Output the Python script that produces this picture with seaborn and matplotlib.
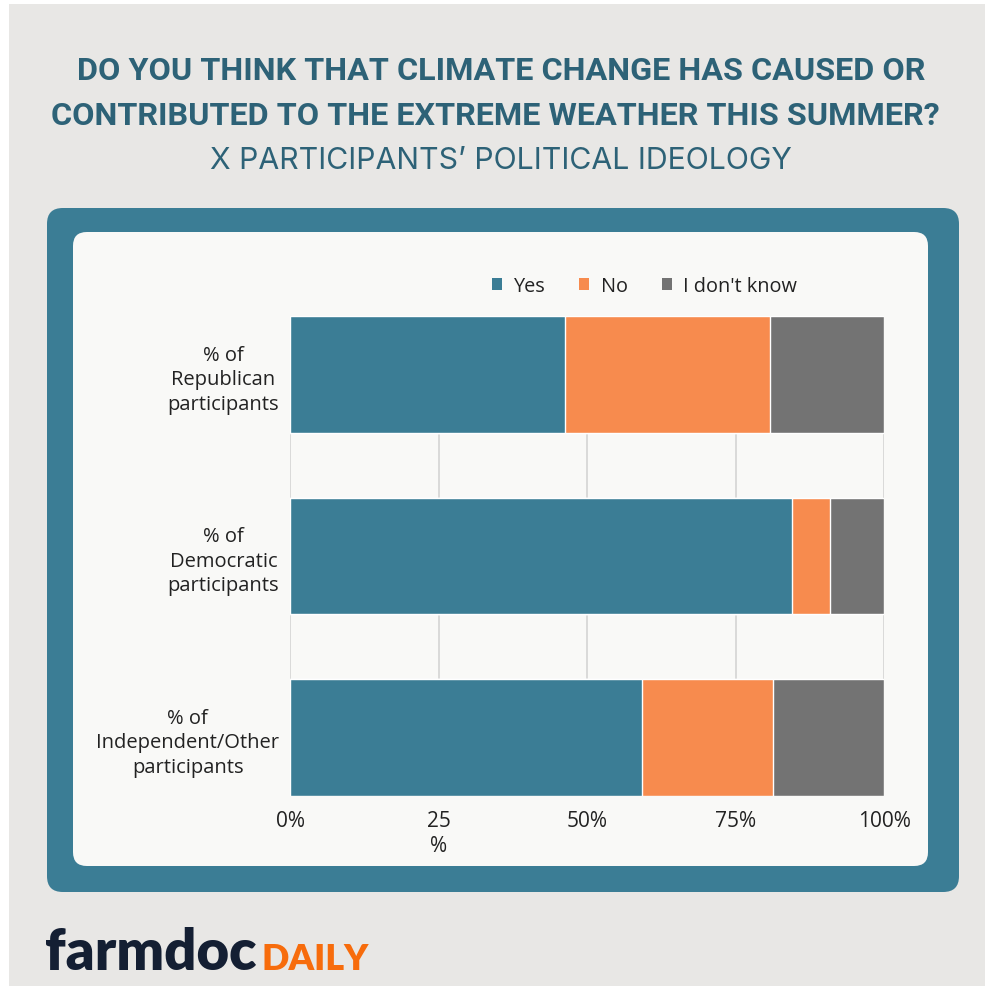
import matplotlib
matplotlib.use("Agg")
import matplotlib.pyplot as plt
from matplotlib import font_manager
from matplotlib.font_manager import FontProperties
from matplotlib.textpath import TextPath
from matplotlib.patches import FancyBboxPatch, Patch, Rectangle
import seaborn as sns
import pandas as pd

# Survey shares (percent of each group)
groups = ["% of\nRepublican\nparticipants",
          "% of\nDemocratic\nparticipants",
          "% of\nIndependent/Other\nparticipants"]
responses = ["Yes", "No", "I don't know"]
yes_pct = [46.3, 84.4, 59.3]
no_pct = [34.4, 6.4, 22.0]
idk_pct = [19.3, 9.2, 18.7]
tick_vals = [0, 25, 50, 75, 100]
tick_labels = ["0%", "25\n%", "50%", "75%", "100%"]

colors = {"Yes": "#3b7d95", "No": "#f78b4e", "I don't know": "#737373"}
BG = "#e8e7e5"
TEAL = "#3b7d95"
PANEL = "#f9f9f7"
TITLE_C = "#2d6277"

sns.set_theme(style="white")
plt.rcParams["font.family"] = ["Open Sans", "DejaVu Sans"]

W, H = 985, 987
DPI = 100
fig = plt.figure(figsize=(W / DPI, H / DPI), dpi=DPI)
fig.patch.set_facecolor("white")


def fx(px):
    return px / W


def fy(py):
    return 1 - py / H


def weight_num(w):
    if isinstance(w, (int, float)):
        return w
    return font_manager.weight_dict.get(w, 400)


installed = font_manager.fontManager.ttflist
sans_names = {"Roboto", "Open Sans", "Lato", "Inter", "Noto Sans",
              "Liberation Sans", "DejaVu Sans"}


def families(bold):
    out = set()
    for f in installed:
        if not (f.name in sans_names or "Condensed" in f.name or "Narrow" in f.name):
            continue
        if "Mono" in f.name or "Serif" in f.name:
            continue
        if (weight_num(f.weight) >= 600) == bold:
            out.add(f.name)
    return sorted(out)


def pick_font(text, weight, cap_px, width_px, renderer):
    """Family whose width is closest to width_px when its caps are cap_px tall."""
    best = None
    for fam in families(weight == "bold"):
        prop = FontProperties(family=fam, weight=weight)
        cap = TextPath((0, 0), "H", size=1, prop=prop).get_extents().height
        size_pt = cap_px / cap * 72 / DPI
        t = fig.text(0, 0, text, fontsize=size_pt, fontproperties=prop)
        w = t.get_window_extent(renderer=renderer).width
        t.remove()
        score = abs(w - width_px)
        if best is None or score < best[0]:
            best = (score, fam, size_pt, w)
    _, fam, size_pt, w = best
    # settle between the cap-height size and the width-fitting size
    fit = size_pt * width_px / w
    size_pt = min(max(fit, size_pt * 0.93), size_pt * 1.07)
    return fam, size_pt


# page background with a thin white margin on top/left
fig.add_artist(Rectangle((fx(9), 0), 1 - fx(9), fy(5), transform=fig.transFigure,
                         facecolor=BG, edgecolor="none", zorder=0))
# teal frame
fig.add_artist(FancyBboxPatch((fx(47), fy(893)), fx(959 - 47), (893 - 209) / H,
                              boxstyle="round,pad=0,rounding_size=0.016",
                              transform=fig.transFigure, facecolor=TEAL,
                              edgecolor="none", zorder=1,
                              mutation_aspect=W / H))
# light panel
fig.add_artist(FancyBboxPatch((fx(73), fy(867)), fx(928 - 73), (867 - 233) / H,
                              boxstyle="round,pad=0,rounding_size=0.014",
                              transform=fig.transFigure, facecolor=PANEL,
                              edgecolor="none", zorder=2,
                              mutation_aspect=W / H))

# headline: text, centre x, baseline y, weight, cap height, line width (pixels)
headline = [
    ("DO YOU THINK THAT CLIMATE CHANGE HAS CAUSED OR", 501.5, 80, "bold", 23.5, 847),
    ("CONTRIBUTED TO THE EXTREME WEATHER THIS SUMMER?", 495.5, 125, "bold", 23.5, 878),
    ("X PARTICIPANTS\u2019 POLITICAL IDEOLOGY", 501, 169, "normal", 22, 582),
]
fig.canvas.draw()
renderer = fig.canvas.get_renderer()
bold_choice = None
for txt, cx, base, wt, cap, width in headline:
    if wt == "bold" and bold_choice is not None:
        fam, size = bold_choice
    else:
        fam, size = pick_font(txt, wt, cap, width, renderer)
        if wt == "bold":
            bold_choice = (fam, size)
    fig.text(fx(cx), fy(base), txt, ha="center", va="baseline", fontsize=size,
             fontweight=wt, color=TITLE_C, family=[fam, "DejaVu Sans"])

# chart axes
ax = fig.add_axes([fx(290.3), fy(797), 593.9 / W, 480 / H])
ax.set_facecolor(PANEL)
ax.set_zorder(3)

rows = []
for g, y, n, k in zip(groups, yes_pct, no_pct, idk_pct):
    rows.append({"group": g, "response": "Yes", "cum": y})
    rows.append({"group": g, "response": "No", "cum": y + n})
    rows.append({"group": g, "response": "I don't know", "cum": y + n + k})
df = pd.DataFrame(rows)

# cumulative bars drawn back to front give the stacked look
sns.barplot(data=df, x="cum", y="group", hue="response",
            hue_order=["I don't know", "No", "Yes"], order=groups,
            palette=colors, dodge=False, width=0.644, orient="h",
            saturation=1, ax=ax, legend=False, zorder=3)

ax.set_xlim(0, 100)
ax.set_ylim(2.322, -0.322)
ax.set_xticks(tick_vals)
ax.set_xticklabels(tick_labels, fontsize=15, color="#222222",
                   linespacing=1.25)
ax.tick_params(axis="x", length=0, pad=10)
ax.tick_params(axis="y", length=0, pad=8)
ax.set_yticks(range(len(groups)))
ax.set_yticklabels(groups, fontsize=14.5, color="#222222",
                   linespacing=1.3, multialignment="center")
ax.xaxis.grid(True, color="#d4d4d4", linewidth=1.2, zorder=0)
ax.set_axisbelow(True)
ax.set_xlabel("")
ax.set_ylabel("")
for s in ax.spines.values():
    s.set_visible(False)

# legend
handles = [Patch(facecolor=colors[r], edgecolor="none", label=r) for r in responses]
fig.legend(handles=handles, loc="center", bbox_to_anchor=(fx(644.5), fy(287)),
           ncol=3, frameon=False, fontsize=14.3, handlelength=0.5,
           handleheight=0.5, handletextpad=0.6, columnspacing=1.7,
           labelcolor="#222222")

# logo
logo_font = ["Lato", "DejaVu Sans"]
t1 = fig.text(fx(45), fy(970), "farmdoc", ha="left", va="baseline",
              fontsize=40.5, fontweight="heavy", color="#141f33", family=logo_font)
fig.canvas.draw()
bb = t1.get_window_extent()
fig.text(bb.x1 / W + fx(5), fy(970), "DAILY", ha="left", va="baseline",
         fontsize=26, fontweight="heavy", color="#f76c0c", family=logo_font)

fig.savefig("out.png", dpi=DPI, facecolor=fig.get_facecolor())
